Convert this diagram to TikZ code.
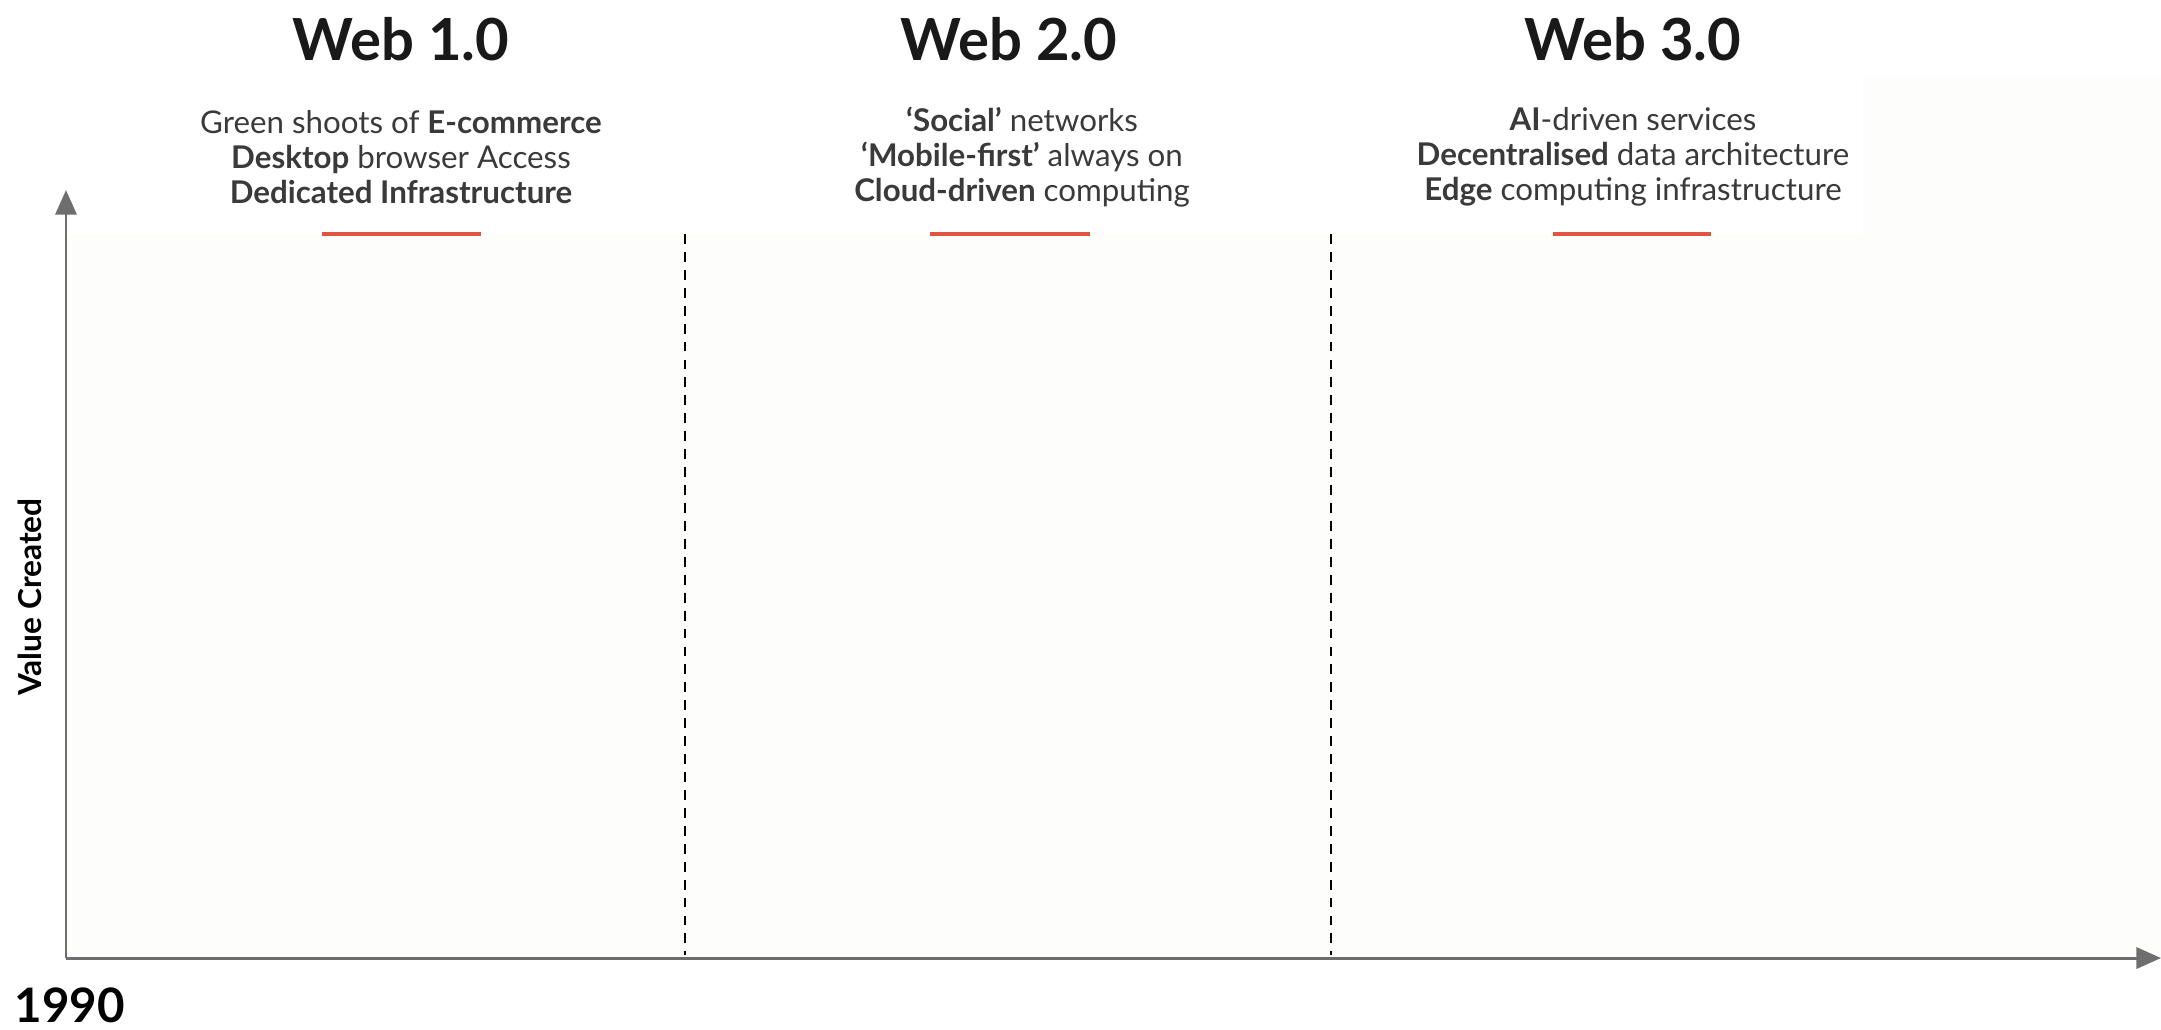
\documentclass[tikz,border=0pt]{standalone}
\usepackage{fontspec}
\setmainfont{Lato}
\usetikzlibrary{arrows.meta}
\definecolor{axisgray}{HTML}{6E6E6E}
\definecolor{accent}{HTML}{E0553F}
\definecolor{faint}{HTML}{FDFDFC}
\definecolor{bodytext}{HTML}{3A3A3A}
\tikzset{
  title/.style={font=\fontsize{16.5}{18}\selectfont\bfseries, text=black!90, inner sep=0pt},
  bodyblock/.style={font=\fontsize{8.9}{10}\selectfont, text=bodytext, align=center, inner sep=0pt},
  axisline/.style={draw=axisgray, line width=0.85pt, -{Triangle[length=7pt,width=6pt]}},
  divider/.style={draw=black, line width=0.6pt, dash pattern=on 2.8pt off 2.3pt},
  accentbar/.style={draw=accent, line width=1.1pt},
}
\begin{document}
\begin{tikzpicture}[x=0.01cm,y=-0.01cm]
\useasboundingbox (0,0) rectangle (2161,1029);
\fill[white] (0,0) rectangle (2161,1029);
\fill[faint] (66,234) rectangle (2161,958);
\fill[faint] (1863,76) rectangle (2161,234);

% axes
\coordinate (origin) at (66,958);
\coordinate (ytop) at (66,190);
\coordinate (xend) at (2161,958);
\draw[axisline] (origin) -- (ytop);
\draw[axisline] (origin) -- (xend);

% dividers
\coordinate (d1top) at (685,234);
\coordinate (d1bot) at (685,955);
\coordinate (d2top) at (1331,234);
\coordinate (d2bot) at (1331,955);
\draw[divider] (d1top) -- (d1bot);
\draw[divider] (d2top) -- (d2bot);

% titles
\node[title] (t1) at (401,39) {Web 1.0};
\node[title] (t2) at (1009,39) {Web 2.0};
\node[title] (t3) at (1633,39) {Web 3.0};

% descriptions
\node[bodyblock] (b1) at (401,157) {Green shoots of \textbf{E-commerce}\\ \textbf{Desktop} browser Access\\ \textbf{Dedicated Infrastructure}};
\node[bodyblock] (b2) at (1022,157) {\textbf{‘Social’} networks\\ \textbf{‘Mobile-first’} always on\\ \textbf{Cloud-driven} computing};
\node[bodyblock] (b3) at (1633,157) {\textbf{AI}-driven services\\ \textbf{Decentralised} data architecture\\ \textbf{Edge} computing infrastructure};

% accent bars
\coordinate (r1a) at (322,234); \coordinate (r1b) at (481,234);
\coordinate (r2a) at (930,234); \coordinate (r2b) at (1090,234);
\coordinate (r3a) at (1553,234); \coordinate (r3b) at (1711,234);
\draw[accentbar] (r1a) -- (r1b);
\draw[accentbar] (r2a) -- (r2b);
\draw[accentbar] (r3a) -- (r3b);

% axis labels
\node[font=\fontsize{9}{10}\selectfont\bfseries, rotate=90, inner sep=0pt] (ylab) at (30,597) {Value Created};
\node[font=\fontsize{13.5}{15}\selectfont\bfseries, anchor=west, inner sep=0pt] (year) at (14,1005) {1990};
\end{tikzpicture}
\end{document}
